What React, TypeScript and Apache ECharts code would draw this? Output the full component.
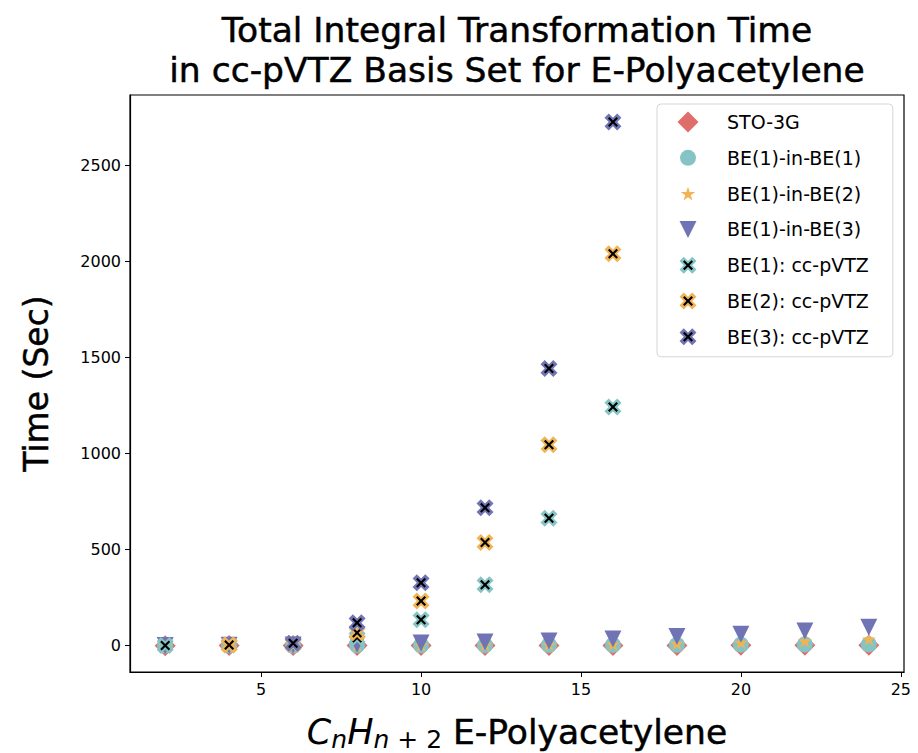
import React, { useEffect, useRef } from 'react';
import * as echarts from 'echarts';

// ---------- data ----------
const xValues = [2, 4, 6, 8, 10, 12, 14, 16, 18, 20, 22, 24];
const sto3g = [0.3, 0.4, 0.5, 0.6, 0.8, 0.9, 1.1, 1.3, 1.5, 1.7, 2.0, 2.2];
const be1InBe1 = [0.5, 0.8, 1.2, 1.8, 2.3, 2.8, 3.4, 4.0, 4.6, 5.3, 6.0, 6.8];
const be1InBe2 = [0.6, 1.0, 1.8, 2.6, 3.4, 4.5, 6, 8, 12, 17, 25, 35];
const be1InBe3 = [1, 2, 4, 8, 14, 19, 25, 35, 48, 60, 77, 96];
const be1Cc = [1.5, 3, 6, 42, 135, 318, 664, 1243];
const be2Cc = [null, 3.5, 9, 67, 233, 537, 1046, 2041];
const be3Cc = [null, null, 13, 119, 328, 718, 1444, 2728];
const xTicks = [5, 10, 15, 20, 25];
const yTicks = [0, 500, 1000, 1500, 2000, 2500];
const seriesNames = [
  'STO-3G',
  'BE(1)-in-BE(1)',
  'BE(1)-in-BE(2)',
  'BE(1)-in-BE(3)',
  'BE(1): cc-pVTZ',
  'BE(2): cc-pVTZ',
  'BE(3): cc-pVTZ',
];

// ---------- styles ----------
const RED = '#E06D6A';
const TEAL = '#84C4C4';
const ORANGE = '#F1B455';
const PURPLE = '#7074B4';
const FONT = "'DejaVu Sans', 'Noto Sans', sans-serif";
const MATH = "'DejaVu Sans', sans-serif";

const X_FILLED = 'M6 0L8 2L6 4L8 6L6 8L4 6L2 8L0 6L2 4L0 2L2 0L4 2Z';
const X_THIN = 'M0 1.2L1.2 0L4 2.8L6.8 0L8 1.2L5.2 4L8 6.8L6.8 8L4 5.2L1.2 8L0 6.8L2.8 4Z';
const STAR = 'M10 0L12.245 6.91L19.51 6.91L13.633 11.18L15.88 18.09L10 13.82L4.12 18.09L6.367 11.18L0.49 6.91L7.755 6.91Z';
const TRI_DOWN = 'M0 0L2 0L1 2Z';

function pairs(ys: (number | null)[]) {
  return xValues
    .map((x, i) => [x, ys[i]])
    .filter((p) => p[1] !== null && p[1] !== undefined);
}

const ICON_W = 53;
const ICON_H = 22;
const CX = 19;
const CY = 11;

function svgIcon(inner: string) {
  const svg = `<svg xmlns="http://www.w3.org/2000/svg" width="${ICON_W}" height="${ICON_H}" viewBox="0 0 ${ICON_W} ${ICON_H}">${inner}</svg>`;
  return 'image://data:image/svg+xml;charset=utf-8,' + encodeURIComponent(svg);
}

function crossIcon(color: string) {
  const s1 = 17 / 8;
  const s2 = 10 / 8;
  return svgIcon(
    `<path d="${X_FILLED}" fill="${color}" transform="translate(${CX - 8.5} ${CY - 8.5}) scale(${s1})"/>` +
      `<path d="${X_THIN}" fill="#000" transform="translate(${CX - 5} ${CY - 5}) scale(${s2})"/>`
  );
}

const legendIcons = [
  svgIcon(`<polygon points="${CX},${CY - 10.5} ${CX + 10.5},${CY} ${CX},${CY + 10.5} ${CX - 10.5},${CY}" fill="${RED}"/>`),
  svgIcon(`<circle cx="${CX}" cy="${CY}" r="8" fill="${TEAL}"/>`),
  svgIcon(`<path d="${STAR}" fill="${ORANGE}" transform="translate(${CX - 7.6} ${CY - 6.9}) scale(0.76)"/>`),
  svgIcon(`<polygon points="${CX - 8.5},${CY - 8.5} ${CX + 8.5},${CY - 8.5} ${CX},${CY + 8.5}" fill="${PURPLE}"/>`),
  crossIcon(TEAL),
  crossIcon(ORANGE),
  crossIcon(PURPLE),
];

function scatter(name: string, data: any[], symbol: string, size: number, color: string, keep = false) {
  return {
    type: 'scatter',
    name,
    data,
    symbol,
    symbolSize: size,
    symbolKeepAspect: keep,
    itemStyle: { color, opacity: 1 },
    emphasis: { disabled: true },
    silent: true,
  };
}

const HEAVY = { textBorderColor: '#000', textBorderWidth: 0.5 };

export default function App() {
  const ref = useRef<HTMLDivElement>(null);

  useEffect(() => {
    if (!ref.current) return;
    const chart = echarts.init(ref.current, null, { renderer: 'svg' });
    const crossSeries = (name: string, ys: (number | null)[], color: string) => [
      scatter(name, pairs(ys), 'path://' + X_FILLED, 17, color),
      scatter(name + ' mark', pairs(ys), 'path://' + X_THIN, 10, '#000'),
    ];
    chart.setOption({
      animation: false,
      backgroundColor: '#fff',
      title: {
        text: 'Total Integral Transformation Time\nin cc-pVTZ Basis Set for E-Polyacetylene',
        left: 517,
        top: 10,
        textAlign: 'center',
        padding: 0,
        textStyle: { fontFamily: FONT, fontSize: 34.5, fontWeight: 'normal', color: '#000', lineHeight: 40, ...HEAVY },
      },
      grid: {
        left: 130,
        top: 95,
        right: 14,
        bottom: 81,
        show: true,
        borderColor: '#000',
        borderWidth: 1.2,
        containLabel: false,
        outerBoundsMode: 'none',
      },
      legend: {
        orient: 'vertical',
        left: 657,
        top: 104,
        padding: [7, 24, 9, 12],
        itemWidth: ICON_W,
        itemHeight: ICON_H,
        itemGap: 13.8,
        backgroundColor: 'rgba(255,255,255,0.8)',
        borderColor: '#d5d5d5',
        borderWidth: 1,
        borderRadius: 4,
        selectedMode: false,
        textStyle: { fontFamily: FONT, fontSize: 19, color: '#000', lineHeight: 22 },
        data: seriesNames.map((n, i) => ({ name: n, icon: legendIcons[i] })),
      },
      xAxis: {
        type: 'value',
        min: 0.9,
        max: 25.1,
        name: '{c|C}{sub|n}{c|H}{sub|n}{subr| + 2}{t| E-Polyacetylene}',
        nameLocation: 'middle',
        nameGap: 40,
        nameTextStyle: {
          rich: {
            c: { fontFamily: MATH, fontStyle: 'italic', fontSize: 35, color: '#000' },
            sub: { fontFamily: MATH, fontStyle: 'italic', fontSize: 25, color: '#000', padding: [15, 0, 0, 0] },
            subr: { fontFamily: MATH, fontSize: 25, color: '#000', padding: [15, 0, 0, 0] },
            t: { fontFamily: FONT, fontSize: 34.5, color: '#000', ...HEAVY },
          },
        },
        axisLine: { show: true, onZero: false, lineStyle: { color: '#000', width: 1.2 } },
        axisTick: { show: true, length: 5, customValues: xTicks, lineStyle: { color: '#000' } },
        axisLabel: { customValues: xTicks, margin: 9, fontFamily: FONT, fontSize: 16, color: '#000' },
        splitLine: { show: false },
      },
      yAxis: {
        type: 'value',
        min: -137,
        max: 2868,
        name: 'Time (Sec)',
        nameLocation: 'middle',
        nameRotate: 90,
        nameGap: 77,
        nameTextStyle: { fontFamily: FONT, fontSize: 33, color: '#000', ...HEAVY },
        axisLine: { show: true, onZero: false, lineStyle: { color: '#000', width: 1.2 } },
        axisTick: { show: true, length: 5, customValues: yTicks, lineStyle: { color: '#000' } },
        axisLabel: {
          customValues: yTicks,
          margin: 9,
          fontFamily: FONT,
          fontSize: 16,
          color: '#000',
          formatter: (v: number) => String(v),
        },
        splitLine: { show: false },
      },
      series: [
        scatter(seriesNames[0], pairs(sto3g), 'diamond', 21, RED),
        scatter(seriesNames[1], pairs(be1InBe1), 'circle', 16, TEAL),
        scatter(seriesNames[2], pairs(be1InBe2), 'path://' + STAR, 14, ORANGE, true),
        scatter(seriesNames[3], pairs(be1InBe3), 'path://' + TRI_DOWN, 17, PURPLE),
        ...crossSeries(seriesNames[4], be1Cc, TEAL),
        ...crossSeries(seriesNames[5], be2Cc, ORANGE),
        ...crossSeries(seriesNames[6], be3Cc, PURPLE),
      ],
    });
    return () => chart.dispose();
  }, []);

  return (
    <div
      ref={ref}
      style={{ position: 'fixed', left: 0, top: 0, width: 918, height: 753, background: '#fff' }}
    />
  );
}
